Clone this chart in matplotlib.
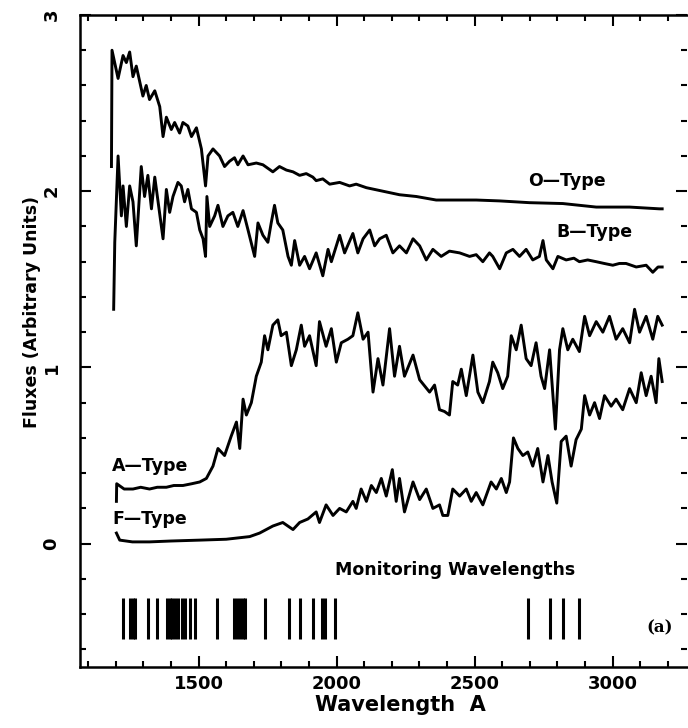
import matplotlib
matplotlib.use("Agg")
import matplotlib.pyplot as plt
from matplotlib.ticker import MultipleLocator

# ---- data ----
O_wave = [1184, 1186, 1208, 1226, 1238, 1250, 1262, 1274, 1298, 1310,
          1322, 1341, 1359, 1371, 1383, 1401, 1413, 1431, 1443, 1461,
          1474, 1492, 1510, 1525, 1534, 1552, 1576, 1594, 1612, 1630,
          1642, 1661, 1679, 1709, 1733, 1769, 1793, 1818, 1842, 1866,
          1890, 1914, 1926, 1950, 1975, 2011, 2047, 2071, 2108, 2168,
          2228, 2289, 2361, 2434, 2506, 2591, 2699, 2820, 2941, 3062,
          3170, 3180]
O_flux = [2.14, 2.80, 2.64, 2.77, 2.73, 2.79, 2.65, 2.71, 2.54, 2.60,
          2.52, 2.57, 2.48, 2.31, 2.42, 2.35, 2.39, 2.33, 2.39, 2.37,
          2.31, 2.36, 2.24, 2.03, 2.20, 2.24, 2.20, 2.14, 2.17, 2.19,
          2.15, 2.20, 2.15, 2.16, 2.15, 2.11, 2.14, 2.12, 2.11, 2.09,
          2.10, 2.08, 2.06, 2.07, 2.04, 2.05, 2.03, 2.04, 2.02, 2.00,
          1.98, 1.97, 1.95, 1.95, 1.95, 1.945, 1.935, 1.93, 1.91, 1.91,
          1.90, 1.90]

B_wave = [1192, 1196, 1208, 1220, 1226, 1238, 1250, 1262, 1274, 1292,
          1304, 1316, 1329, 1341, 1353, 1371, 1383, 1395, 1407, 1425,
          1437, 1449, 1461, 1474, 1492, 1504, 1516, 1525, 1530, 1540,
          1558, 1570, 1588, 1606, 1624, 1642, 1661, 1679, 1703, 1715,
          1733, 1751, 1763, 1775, 1787, 1805, 1824, 1836, 1848, 1866,
          1884, 1902, 1926, 1950, 1969, 1981, 2011, 2029, 2059, 2077,
          2096, 2120, 2138, 2156, 2180, 2204, 2228, 2253, 2277, 2301,
          2325, 2349, 2379, 2409, 2446, 2482, 2506, 2530, 2554, 2566,
          2591, 2615, 2639, 2663, 2687, 2711, 2735, 2748, 2760, 2784,
          2802, 2832, 2860, 2880, 2910, 2941, 2970, 3001, 3025, 3049,
          3086, 3122, 3146, 3165, 3180]
B_flux = [1.33, 1.71, 2.20, 1.86, 2.03, 1.80, 2.03, 1.94, 1.69, 2.14,
          1.97, 2.09, 1.90, 2.08, 1.94, 1.73, 2.01, 1.88, 1.97, 2.05,
          2.03, 1.94, 2.01, 1.90, 1.88, 1.78, 1.73, 1.63, 1.97, 1.80,
          1.86, 1.92, 1.80, 1.86, 1.88, 1.80, 1.89, 1.78, 1.63, 1.82,
          1.75, 1.71, 1.82, 1.92, 1.82, 1.78, 1.63, 1.58, 1.72, 1.58,
          1.63, 1.56, 1.65, 1.52, 1.67, 1.60, 1.75, 1.65, 1.76, 1.65,
          1.73, 1.78, 1.69, 1.73, 1.75, 1.65, 1.69, 1.65, 1.73, 1.69,
          1.61, 1.67, 1.63, 1.66, 1.65, 1.63, 1.64, 1.60, 1.65, 1.63,
          1.56, 1.65, 1.67, 1.63, 1.67, 1.61, 1.63, 1.72, 1.61, 1.56,
          1.63, 1.61, 1.62, 1.60, 1.61, 1.60, 1.59, 1.58, 1.59, 1.59,
          1.57, 1.58, 1.54, 1.57, 1.57]

A_wave = [1202, 1203, 1230, 1262, 1290, 1322, 1350, 1383, 1410, 1443,
          1475, 1504, 1528, 1552, 1570, 1594, 1618, 1637, 1649, 1661,
          1673, 1691, 1709, 1727, 1739, 1751, 1769, 1787, 1799, 1818,
          1836, 1854, 1872, 1884, 1902, 1926, 1938, 1962, 1981, 1999,
          2017, 2041, 2059, 2077, 2096, 2114, 2132, 2150, 2168, 2192,
          2210, 2228, 2246, 2277, 2301, 2337, 2355, 2373, 2391, 2409,
          2421, 2439, 2452, 2470, 2494, 2512, 2530, 2554, 2566, 2584,
          2602, 2620, 2633, 2651, 2669, 2687, 2705, 2723, 2741, 2754,
          2772, 2793, 2808, 2820, 2838, 2856, 2880, 2899, 2917, 2941,
          2965, 2989, 3013, 3037, 3062, 3080, 3098, 3122, 3146, 3164,
          3180]
A_flux = [0.24, 0.34, 0.31, 0.31, 0.32, 0.31, 0.32, 0.32, 0.33, 0.33,
          0.34, 0.35, 0.37, 0.44, 0.54, 0.50, 0.61, 0.69, 0.54, 0.82,
          0.73, 0.80, 0.95, 1.03, 1.18, 1.10, 1.24, 1.27, 1.18, 1.20,
          1.01, 1.10, 1.24, 1.12, 1.18, 1.01, 1.26, 1.12, 1.22, 1.03,
          1.14, 1.16, 1.18, 1.31, 1.16, 1.20, 0.86, 1.05, 0.90, 1.22,
          0.95, 1.12, 0.95, 1.07, 0.93, 0.86, 0.90, 0.76, 0.75, 0.73,
          0.92, 0.90, 0.99, 0.84, 1.07, 0.86, 0.80, 0.92, 1.03, 0.97,
          0.88, 0.95, 1.18, 1.10, 1.24, 1.05, 1.01, 1.14, 0.95, 0.88,
          1.10, 0.65, 1.10, 1.22, 1.10, 1.16, 1.09, 1.29, 1.18, 1.26,
          1.20, 1.29, 1.16, 1.22, 1.14, 1.33, 1.20, 1.29, 1.16, 1.29,
          1.24]

F_wave = [1202, 1214, 1260, 1322, 1400, 1504, 1600, 1685, 1721, 1769,
          1805, 1842, 1866, 1896, 1926, 1938, 1962, 1987, 2011, 2035,
          2059, 2071, 2089, 2108, 2126, 2144, 2162, 2180, 2202, 2216,
          2228, 2246, 2277, 2301, 2325, 2349, 2373, 2385, 2403, 2421,
          2446, 2470, 2488, 2506, 2530, 2560, 2579, 2597, 2615, 2627,
          2641, 2657, 2675, 2693, 2711, 2729, 2748, 2766, 2781, 2798,
          2814, 2832, 2850, 2868, 2887, 2899, 2917, 2935, 2953, 2971,
          2995, 3013, 3037, 3062, 3086, 3104, 3122, 3140, 3158, 3168,
          3180]
F_flux = [0.06, 0.02, 0.01, 0.01, 0.015, 0.02, 0.025, 0.04, 0.06, 0.10,
          0.12, 0.08, 0.12, 0.14, 0.18, 0.12, 0.22, 0.16, 0.20, 0.18,
          0.24, 0.20, 0.31, 0.24, 0.33, 0.29, 0.37, 0.27, 0.42, 0.24,
          0.37, 0.18, 0.35, 0.25, 0.31, 0.20, 0.22, 0.16, 0.16, 0.31,
          0.27, 0.31, 0.24, 0.29, 0.22, 0.35, 0.31, 0.37, 0.29, 0.35,
          0.60, 0.54, 0.50, 0.52, 0.44, 0.54, 0.35, 0.50, 0.35, 0.23,
          0.58, 0.61, 0.44, 0.59, 0.65, 0.84, 0.73, 0.80, 0.71, 0.84,
          0.78, 0.82, 0.76, 0.88, 0.80, 0.97, 0.84, 0.95, 0.80, 1.05,
          0.92]

mon_wave = [1226, 1250, 1261, 1268, 1316, 1349, 1385, 1395, 1404, 1413,
            1424, 1438, 1451, 1467, 1486, 1568, 1627, 1638, 1649, 1659,
            1667, 1742, 1826, 1866, 1914, 1947, 1957, 1993,
            2693, 2774, 2820, 2877]

labels = ["O\u2014Type", "B\u2014Type", "A\u2014Type", "F\u2014Type"]

# ---- figure ----
fig = plt.figure(figsize=(6.88, 7.28), dpi=100)
ax = fig.add_axes([80 / 688, 61 / 728, 607 / 688, 652 / 728])

lw = 2.1
for w, f in [(O_wave, O_flux), (B_wave, B_flux), (A_wave, A_flux), (F_wave, F_flux)]:
    ax.plot(w, f, color="black", lw=lw, solid_joinstyle="round")

ax.vlines(mon_wave, -0.54, -0.31, color="black", lw=2.2)

tfont = dict(family="DejaVu Sans", weight="bold", size=12.5)
ax.text(2835, 2.06, labels[0], ha="center", va="center", **tfont)
ax.text(2935, 1.77, labels[1], ha="center", va="center", **tfont)
ax.text(1184, 0.44, labels[2], ha="left", va="center", **tfont)
ax.text(1188, 0.14, labels[3], ha="left", va="center", **tfont)
ax.text(2431, -0.15, "Monitoring Wavelengths", ha="center", va="center", **tfont)
ax.text(3172, -0.48, "(a)", ha="center", va="center", family="DejaVu Serif",
        weight="bold", size=12)

ax.set_xlim(1070, 3270)
ax.set_ylim(-0.7, 3.0)

ax.xaxis.set_major_locator(MultipleLocator(500))
ax.xaxis.set_minor_locator(MultipleLocator(100))
ax.yaxis.set_major_locator(MultipleLocator(1))
ax.yaxis.set_minor_locator(MultipleLocator(0.2))

ax.tick_params(which="both", direction="in", top=True, right=True, width=1.5)
ax.tick_params(which="major", length=8)
ax.tick_params(which="minor", length=4)
ax.tick_params(axis="x", labelsize=13, pad=6)
ax.tick_params(axis="y", labelsize=13, pad=14, labelrotation=90)
for lab in ax.get_xticklabels() + ax.get_yticklabels():
    lab.set_fontweight("bold")
for lab in ax.get_yticklabels():
    lab.set_va("center")

for side in ["left", "bottom", "top"]:
    ax.spines[side].set_linewidth(1.8)
ax.spines["right"].set_visible(False)

fig.text(32 / 688, 1 - 312 / 728, "Fluxes (Arbitrary Units)", rotation=90,
         ha="center", va="center", fontsize=12.5, fontweight="bold",
         family=["Liberation Sans Narrow", "DejaVu Sans"])
fig.text(400 / 688, 1 - 705 / 728, "Wavelength  A", ha="center", va="center",
         fontsize=15, fontweight="bold", family="DejaVu Sans")

fig.savefig("out.png", dpi=100)
